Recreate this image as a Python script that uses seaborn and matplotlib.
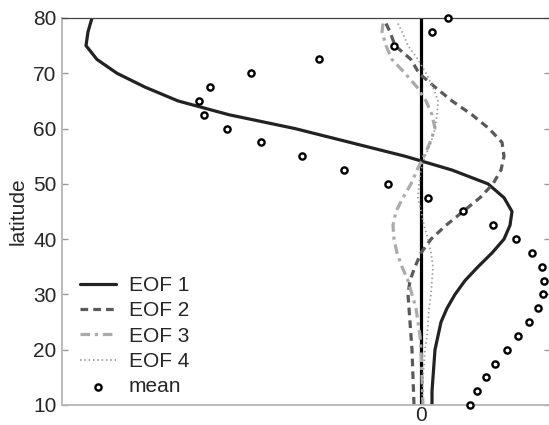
import numpy as np
import pandas as pd
import matplotlib
matplotlib.use("Agg")
import matplotlib.pyplot as plt
import seaborn as sns

# latitude grids
lat_eof = [80, 77.5, 75, 72.5, 70, 67.5, 65, 62.5, 60, 57.5, 55, 52.5, 50, 47.5,
           45, 42.5, 40, 37.5, 35, 32.5, 30, 27.5, 25, 22.5, 20, 17.5, 15, 12.5, 10]
lat_top = [79] + lat_eof[1:]

eof1 = [-3.29, -3.33, -3.35, -3.24, -3.04, -2.76, -2.43, -1.92, -1.26, -0.71, -0.16, 0.31,
        0.67, 0.83, 0.91, 0.89, 0.83, 0.71, 0.57, 0.44, 0.34, 0.26, 0.20, 0.17, 0.14,
        0.13, 0.12, 0.11, 0.11]
eof2 = [-0.35, -0.31, -0.26, -0.10, -0.02, 0.14, 0.31, 0.51, 0.68, 0.81, 0.83, 0.80,
        0.72, 0.59, 0.42, 0.25, 0.10, 0.00, -0.06, -0.11, -0.13, -0.12, -0.11, -0.10,
        -0.09, -0.085, -0.08, -0.075, -0.07]
eof3 = [-0.38, -0.39, -0.35, -0.29, -0.16, -0.04, 0.05, 0.11, 0.14, 0.09, 0.03, -0.04,
        -0.10, -0.18, -0.25, -0.28, -0.27, -0.24, -0.19, -0.13, -0.09, -0.05, -0.03,
        -0.01, 0.00, 0.005, 0.01, 0.015, 0.02]
eof4 = [-0.23, -0.19, -0.13, -0.03, 0.05, 0.12, 0.17, 0.16, 0.14, 0.10, 0.04, 0.00,
        -0.02, -0.03, 0.00, 0.03, 0.07, 0.10, 0.12, 0.11, 0.10, 0.08, 0.07, 0.06, 0.04,
        0.03, 0.02, 0.015, 0.01]
mean = [0.27, 0.11, -0.27, -1.02, -1.70, -2.11, -2.22, -2.17, -1.94, -1.60, -1.19, -0.77,
        -0.33, 0.07, 0.42, 0.72, 0.95, 1.11, 1.21, 1.23, 1.22, 1.17, 1.08, 0.97, 0.86,
        0.74, 0.65, 0.56, 0.49]

sns.set_style("white")
plt.rcParams["font.family"] = ["Liberation Sans", "DejaVu Sans"]

fig = plt.figure(figsize=(5.49, 4.25), dpi=100)
ax = fig.add_axes([62 / 549, 20 / 425, 488 / 549, 387 / 425])

ax.axvline(0, color="black", lw=2.3, zorder=1)

sns.lineplot(x=eof1, y=lat_eof, sort=False, estimator=None, color="#222222", lw=2.3,
             label="EOF 1", ax=ax)
sns.lineplot(x=eof2, y=lat_top, sort=False, estimator=None, color="#5a5a5a", lw=2.3,
             label="EOF 2", ax=ax)
ax.lines[-1].set_dashes((2.4, 1.6))
sns.lineplot(x=eof3, y=lat_top, sort=False, estimator=None, color="#ababab", lw=2.3,
             label="EOF 3", ax=ax)
ax.lines[-1].set_dashes((3, 1.5, 1, 1.5))
sns.lineplot(x=eof4, y=lat_top, sort=False, estimator=None, color="#9a9a9a", lw=1.3,
             label="EOF 4", ax=ax)
ax.lines[-1].set_dashes((0.8, 1.6))
sns.scatterplot(x=mean, y=lat_eof, marker="o", s=20, facecolor="white",
                edgecolor="black", linewidth=1.7, label="mean", ax=ax, zorder=5,
                clip_on=False)

ax.set_xlim(-3.59, 1.29)
ax.set_ylim(10, 80)
ax.set_yticks([10, 20, 30, 40, 50, 60, 70, 80])
ax.set_xticks([0])
ax.set_ylabel("latitude", fontsize=15, labelpad=4)
ax.tick_params(axis="y", direction="in", length=4, width=1, color="#999999",
               labelsize=15, pad=4, right=True, left=True)
ax.tick_params(axis="x", length=0, labelsize=15, pad=1)

for s in ["left", "bottom"]:
    ax.spines[s].set_color("#b5b5b5")
    ax.spines[s].set_linewidth(1.3)
ax.spines["top"].set_color("#444444")
ax.spines["top"].set_linewidth(0.9)
ax.spines["right"].set_visible(False)

leg = ax.legend(loc="lower left", bbox_to_anchor=(0.028, 0.012), frameon=False,
                fontsize=15, handlelength=1.75, handletextpad=0.6, labelspacing=0.3,
                borderpad=0.2, borderaxespad=0)

fig.savefig("out.png", dpi=100)
